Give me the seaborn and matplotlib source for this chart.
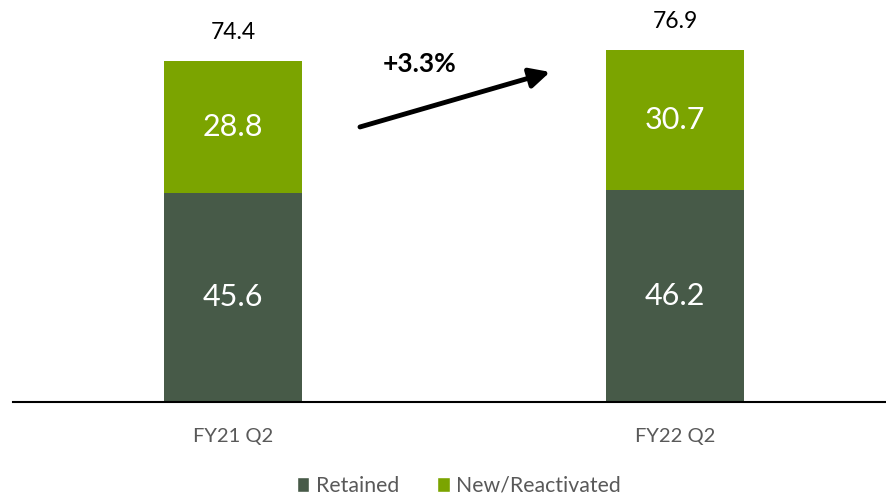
import matplotlib
matplotlib.use("Agg")
import matplotlib.pyplot as plt
import seaborn as sns
import pandas as pd
from matplotlib.patches import Patch

categories = ["FY21 Q2", "FY22 Q2"]
retained = [45.6, 46.2]
new_react = [28.8, 30.7]
totals = [74.4, 76.9]
growth_label = "+3.3%"

sns.set_theme(style="white")
plt.rcParams["font.family"] = ["Lato", "DejaVu Sans"]

c_ret = "#475A48"
c_new = "#7BA400"

df = pd.DataFrame({"cat": categories, "Retained": retained, "New": new_react})

fig = plt.figure(figsize=(8.86, 4.99), dpi=100)
ax = fig.add_axes([13 / 886, 97 / 499, 873 / 886, 402 / 499])

sns.barplot(data=df, x="cat", y="Retained", color=c_ret, width=0.312,
            saturation=1, ax=ax, linewidth=0)
sns.barplot(data=df, x="cat", y="New", color=c_new, width=0.312,
            saturation=1, ax=ax, linewidth=0, bottom=df["Retained"])

ax.set_xlim(-0.498, 1.477)
ax.set_ylim(0, 87.7)

for i in range(len(categories)):
    ax.text(i, retained[i] / 2, f"{retained[i]:.1f}", ha="center", va="center",
            color="white", fontsize=22)
    ax.text(i, retained[i] + new_react[i] / 2, f"{new_react[i]:.1f}", ha="center",
            va="center", color="white", fontsize=22)
    ax.text(i, totals[i] + 3.9, f"{totals[i]:.1f}", ha="center", va="bottom",
            color="black", fontsize=16.5)

ax.annotate("", xy=(0.717, 72.0), xytext=(0.287, 60.0),
            arrowprops=dict(arrowstyle="-|>,head_length=1.0,head_width=0.5",
                            color="black", lw=3.5, shrinkA=0, shrinkB=0))
ax.text(0.423, 73.8, growth_label, ha="center", va="center", fontsize=19,
        fontweight="bold", color="black")

for s in ["top", "right", "left"]:
    ax.spines[s].set_visible(False)
ax.spines["bottom"].set_color("black")
ax.spines["bottom"].set_linewidth(1.5)
ax.set_yticks([])
ax.set_xlabel("")
ax.set_ylabel("")
ax.tick_params(axis="x", length=0, pad=19, labelsize=14.5, labelcolor="#595959")

handles = [Patch(facecolor=c_ret, label="Retained"),
           Patch(facecolor=c_new, label="New/Reactivated")]
fig.legend(handles=handles, loc="center", bbox_to_anchor=(0.518, 13 / 499), ncol=2,
           frameon=False, fontsize=15.3, handlelength=0.6, handleheight=0.75,
           handletextpad=0.3, columnspacing=1.8, labelcolor="#595959")

fig.savefig("out.png", dpi=100)
